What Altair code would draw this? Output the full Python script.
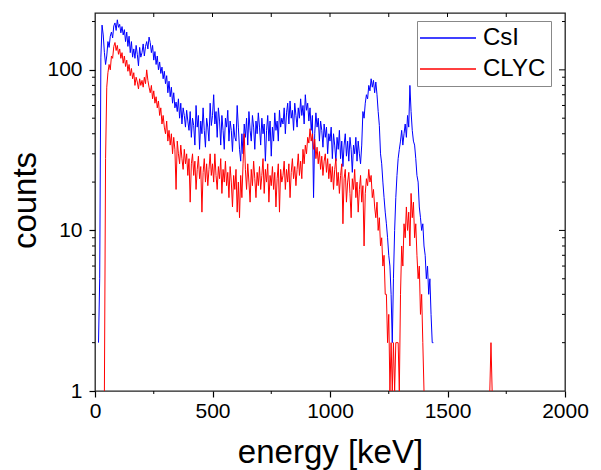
import altair as alt
import pandas as pd

BIN_KEV = 5  # channel width of both spectra

# CsI spectrum, counts per 5 keV bin starting at 0 keV (None = empty bin)
csi_counts = [
    None, None, None, 2, 5, 120, 190, 165, 128, 108, 122, 150, 138, 162, 172, 158, 188, 196, 176, 205,
    184, 192, 170, 186, 165, 178, 150, 172, 140, 162, 128, 150, 120, 135, 118, 142, 125, 106, 138, 120,
    128, 145, 122, 140, 150, 135, 160, 148, 128, 142, 115, 130, 108, 122, 100, 112, 95, 104, 88, 98,
    82, 92, 72, 85, 68, 78, 62, 72, 58, 63, 55, 66, 50, 62, 46, 58, 52, 44, 56, 48,
    42, 55, 38, 50, 45, 34, 60, 44, 52, 32, 48, 40, 58, 42, 33, 50, 44, 36, 62, 45,
    52, 70, 46, 55, 38, 58, 48, 34, 52, 42, 32, 50, 44, 56, 36, 48, 42, 31, 46, 38,
    36, 60, 44, 32, 27, 40, 30, 46, 38, 50, 34, 55, 42, 36, 52, 44, 32, 48, 40, 54,
    44, 34, 50, 40, 46, 27, 42, 52, 36, 48, 29, 44, 36, 54, 42, 48, 36, 56, 44, 50,
    46, 58, 40, 54, 62, 46, 64, 50, 56, 42, 62, 52, 44, 58, 50, 66, 52, 60, 46, 70,
    56, 62, 48, 58, 42, 52, 16, 40, 54, 44, 50, 36, 48, 42, 33, 46, 38, 44, 30, 40,
    36, 44, 28, 40, 34, 27, 38, 32, 42, 28, 36, 25, 34, 40, 29, 36, 27, 38, 32, 23,
    34, 30, 38, 27, 36, 30, 26, 34, 55, 50, 62, 70, 66, 80, 74, 88, 78, 86, 72, 84,
    70, 55, 45, 30, 26, 20, 16, 13, 11, 9, 7, 6, 4, 2, 5, 10, 16, 22, 28, 32,
    36, 42, 34, 40, 46, 38, 52, 44, 80, 55, 42, 36, 34, 28, 22, 20, 14, 12, 10, 11,
    8, 7, 5, 6, 4, 5, 3, 2, 2,
]

# CLYC spectrum, counts per 5 keV bin starting at 0 keV (None = empty bin)
clyc_counts = [
    None, None, None, None, None, None, None, None, 1, 28, 78, 96, 108, 100, 122, 118, 140, 148, 132, 142,
    125, 135, 118, 128, 110, 122, 105, 115, 98, 108, 92, 102, 88, 96, 80, 90, 84, 76, 88, 80,
    86, 78, 90, 82, 100, 86, 78, 72, 80, 66, 74, 62, 68, 58, 64, 52, 58, 46, 52, 44,
    40, 48, 36, 42, 34, 40, 30, 38, 32, 18, 36, 30, 26, 34, 28, 24, 32, 26, 30, 22,
    28, 15, 26, 30, 22, 27, 18, 24, 29, 21, 25, 13, 23, 28, 20, 26, 19, 24, 30, 22,
    26, 20, 30, 22, 18, 25, 21, 28, 17, 24, 20, 27, 19, 23, 16, 25, 20, 14, 22, 18,
    24, 13, 20, 12, 22, 16, 26, 40, 24, 18, 26, 20, 15, 24, 19, 27, 21, 16, 23, 19,
    25, 18, 22, 28, 17, 24, 20, 26, 15, 22, 19, 25, 18, 23, 14, 21, 26, 13, 24, 20,
    22, 27, 18, 24, 20, 26, 16, 23, 28, 21, 25, 19, 24, 30, 22, 27, 21, 32, 26, 34,
    30, 38, 35, 43, 36, 40, 32, 37, 28, 33, 26, 31, 24, 29, 22, 27, 30, 23, 28, 21,
    26, 20, 25, 18, 24, 28, 19, 23, 17, 22, 26, 11, 21, 24, 15, 20, 23, 17, 12, 21,
    18, 24, 16, 20, 13, 18, 22, 15, 19, 8, 17, 21, 19, 24, 20, 22, 16, 18, 14, 12,
    15, 10, 12, 8, 9, 6, 7, 4, 4, 2, 3, 1, 2, 1, 2, 1, 2, 2, 2, 1,
    4, 8, 6, 11, 9, 14, 10, 13, 8, 17, 12, 15, 9, 11, 7, 5, 6, 3, 4, 2,
    1, None,
]
# isolated CLYC counts far in the tail
clyc_tail_energy = [1680, 1685, 1690]
clyc_tail_counts = [1, 2, 1]

series_names = ["CsI", "CLYC"]
series_colors = ["#0000ff", "#ff0000"]

x_major = [0, 500, 1000, 1500, 2000]
x_minor = [250, 750, 1250, 1750]
y_major = [1, 10, 100]
y_minor = [2, 3, 4, 5, 6, 7, 8, 9, 20, 30, 40, 50, 60, 70, 80, 90, 200]

X_DOMAIN = [0, 2000]
Y_DOMAIN = [1, 226]

W, H = 470, 378
FONT = "Liberation Sans, Arial, sans-serif"

csi_energy = [i * BIN_KEV for i in range(len(csi_counts))]
clyc_energy = [i * BIN_KEV for i in range(len(clyc_counts))] + clyc_tail_energy
clyc_all = clyc_counts + clyc_tail_counts

df = pd.DataFrame({
    "energy": csi_energy + clyc_energy,
    "counts": csi_counts + clyc_all,
    "detector": [series_names[0]] * len(csi_energy) + [series_names[1]] * len(clyc_energy),
})

x_scale = alt.Scale(domain=X_DOMAIN, nice=False, zero=False)
y_scale = alt.Scale(type="log", domain=Y_DOMAIN, nice=False)

x_axis = alt.Axis(
    values=x_major, tickSize=6, labelPadding=3, labelFontSize=21, format="d",
    title="energy [keV]", titleFontSize=33, titleX=W / 2, titleY=71,
    titleAlign="center", titleBaseline="alphabetic", domain=False, grid=False,
    labelFlush=False,
)
y_axis = alt.Axis(
    values=y_major, tickSize=6, labelPadding=7, labelFontSize=21, format="d",
    title="counts", titleFontSize=33, titleX=-60, titleY=187, titleAngle=-90,
    titleAlign="center", titleBaseline="alphabetic", domain=False, grid=False,
    labelFlush=False,
)

lines = alt.Chart(df).mark_line(
    strokeWidth=1, invalid="break-paths-show-domains", clip=True
).encode(
    x=alt.X("energy:Q", scale=x_scale, axis=x_axis, title="energy [keV]"),
    y=alt.Y("counts:Q", scale=y_scale, axis=y_axis, title="counts"),
    color=alt.Color("detector:N",
        scale=alt.Scale(domain=series_names, range=series_colors),
        sort=series_names,
        legend=alt.Legend(
            title=None, orient="none", legendX=322, legendY=8,
            symbolType="M-1.4,0H4.2", symbolSize=400, symbolStrokeWidth=1.3,
            labelFontSize=24, labelFont=FONT, labelColor="black", labelOffset=37,
            rowPadding=7, padding=5, strokeColor="#888888", fillColor="white",
        )),
)


def x_ticks(vals, y0, y1):
    return alt.Chart(pd.DataFrame({"v": vals})).mark_rule(
        color="black", strokeWidth=1
    ).encode(x=alt.X("v:Q", scale=x_scale, axis=x_axis, title="energy [keV]"),
             y=alt.value(y0), y2=alt.value(y1))


def y_ticks(vals, x0, x1):
    return alt.Chart(pd.DataFrame({"v": vals})).mark_rule(
        color="black", strokeWidth=1
    ).encode(y=alt.Y("v:Q", scale=y_scale, axis=y_axis, title="counts"),
             x=alt.value(x0), x2=alt.value(x1))


top_ticks = x_ticks(x_major[1:-1] + x_minor, 0, 4)
bottom_minor = x_ticks(x_minor, H, H + 3)
left_minor = y_ticks(y_minor, -3, 0)
right_major = y_ticks(y_major[1:], W, W - 6)
right_minor = y_ticks(y_minor, W, W - 3)

chart = alt.layer(
    lines, top_ticks, bottom_minor, left_minor, right_major, right_minor
).properties(
    width=W, height=H,
    autosize=alt.AutoSizeParams(type="none"),
    padding={"left": 95, "top": 13, "right": 36, "bottom": 79},
    background="white",
).configure_view(
    stroke="#222222", strokeWidth=1.3
).configure_axis(
    labelFont=FONT, titleFont=FONT, titleFontWeight="normal",
    labelColor="black", titleColor="black", tickColor="black", tickWidth=1.2,
)

chart.save("out.html", embed_options={"renderer": "svg", "actions": False})
